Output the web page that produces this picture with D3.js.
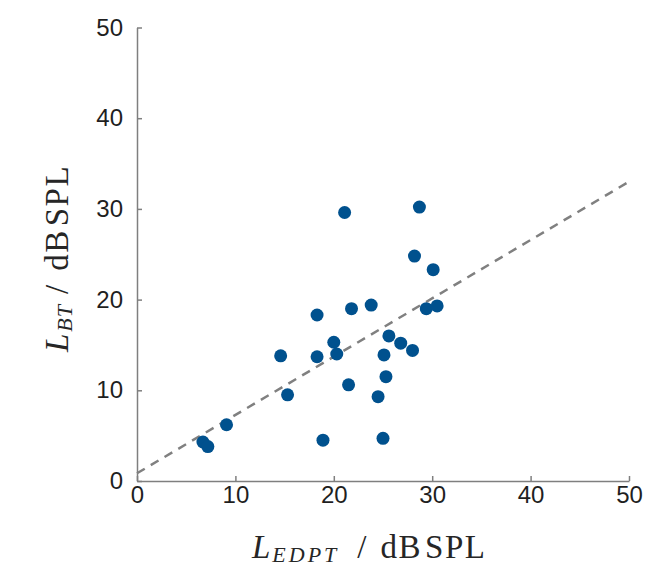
<!DOCTYPE html>
<html lang="en">
  <head>
    <meta charset="utf-8">
    <title>LBT vs LEDPT</title>
    <script src="https://cdn.jsdelivr.net/npm/d3@7"></script>
    <style>
      body { margin: 0; background: #fff; }
      .tick text { font-family: 'Liberation Sans', Arial, sans-serif; font-size: 24px; fill: #1f1f1f; }
      .lbl { font-family: 'Liberation Serif', 'Times New Roman', serif; font-size: 33px; fill: #262626; }
    </style>
  </head>
  <body>
    <div id='chart'></div>
    <script type='text/javascript'>
      // LEDPT (x) and LBT (y), dB SPL
      let ledpt = [21.1, 28.7, 28.2, 30.1, 18.3, 21.8, 23.8, 29.4, 30.5, 25.6, 20.0, 26.8, 28.0,
                   14.6, 18.3, 20.3, 25.1, 25.3, 21.5, 15.3, 24.5, 9.1, 6.7, 7.2, 18.9, 25.0];
      let lbt   = [29.6, 30.2, 24.8, 23.3, 18.3, 19.0, 19.4, 19.0, 19.3, 16.0, 15.3, 15.2, 14.4,
                   13.8, 13.7, 14.0, 13.9, 11.5, 10.6, 9.5, 9.3, 6.2, 4.3, 3.8, 4.5, 4.7];
      let xTicks = [0, 10, 20, 30, 40, 50];
      let yTicks = [0, 10, 20, 30, 40, 50];
      // regression line endpoints
      let fitX = [0, 50];
      let fitY = [0.85, 33.0];

      let margin = {top: 27.5, right: 20, bottom: 86, left: 137};
      let width = 649, height = 567;
      let innerW = 492, innerH = 453.5;

      let svg = d3.select('#chart').append('svg')
        .attr('width', width)
        .attr('height', height)
      let g = svg.append('g')
        .attr('transform', 'translate(' + margin.left + ',' + margin.top + ')')

      let x = d3.scaleLinear().domain([0, 50]).range([0, innerW]);
      let y = d3.scaleLinear().domain([0, 50]).range([innerH, 0]);

      let xAxis = g.append('g')
        .attr('transform', 'translate(0,' + innerH + ')')
        .call(d3.axisBottom(x).tickValues(xTicks).tickSize(-5).tickPadding(14).tickSizeOuter(0))
      let yAxis = g.append('g')
        .call(d3.axisLeft(y).tickValues(yTicks).tickSize(-5).tickPadding(14).tickSizeOuter(0))

      ;[xAxis, yAxis].forEach(a => {
        a.select('.domain').attr('stroke', '#7f7f7f').attr('stroke-width', 1.5)
        a.selectAll('.tick line').attr('stroke', '#7f7f7f').attr('stroke-width', 1.5)
        a.selectAll('.tick text').attr('font-family', null).attr('font-size', null)
      })
      xAxis.selectAll('.tick text').attr('y', 21.5).attr('dy', 0)

      g.append('line')
        .attr('x1', x(fitX[0])).attr('y1', y(fitY[0]))
        .attr('x2', x(fitX[1])).attr('y2', y(fitY[1]))
        .attr('stroke', '#808080')
        .attr('stroke-width', 2.5)
        .attr('stroke-dasharray', '9,7')

      g.selectAll('circle')
        .data(ledpt.map((d, i) => [d, lbt[i]]))
        .enter()
        .append('circle')
        .attr('cx', d => x(d[0]))
        .attr('cy', d => y(d[1]))
        .attr('r', 6.5)
        .attr('fill', '#00518e')

      // latex-like label: L_sub / dB SPL
      function mathLabel(sel, sub, subSpacing, gap) {
        sel.append('tspan').attr('font-style', 'italic').text('L')
        sel.append('tspan').attr('font-style', 'italic').attr('font-size', '22px')
          .attr('letter-spacing', subSpacing).attr('dx', 2).attr('dy', 4).text(sub)
        sel.append('tspan').attr('dx', gap).attr('dy', -4).text('/')
        sel.append('tspan').attr('dx', 14).attr('letter-spacing', 1.5).text('dB')
        sel.append('tspan').attr('dx', 3).attr('letter-spacing', 1.5).text('SPL')
      }

      let xl = svg.append('text')
        .attr('class', 'lbl')
        .attr('x', 252)
        .attr('y', 558)
      mathLabel(xl, 'EDPT', 3, 18)

      let yl = svg.append('text')
        .attr('class', 'lbl')
        .attr('transform', 'translate(68,352) rotate(-90)')
      mathLabel(yl, 'BT', 1, 10)
    </script>
  </body>
</html>
